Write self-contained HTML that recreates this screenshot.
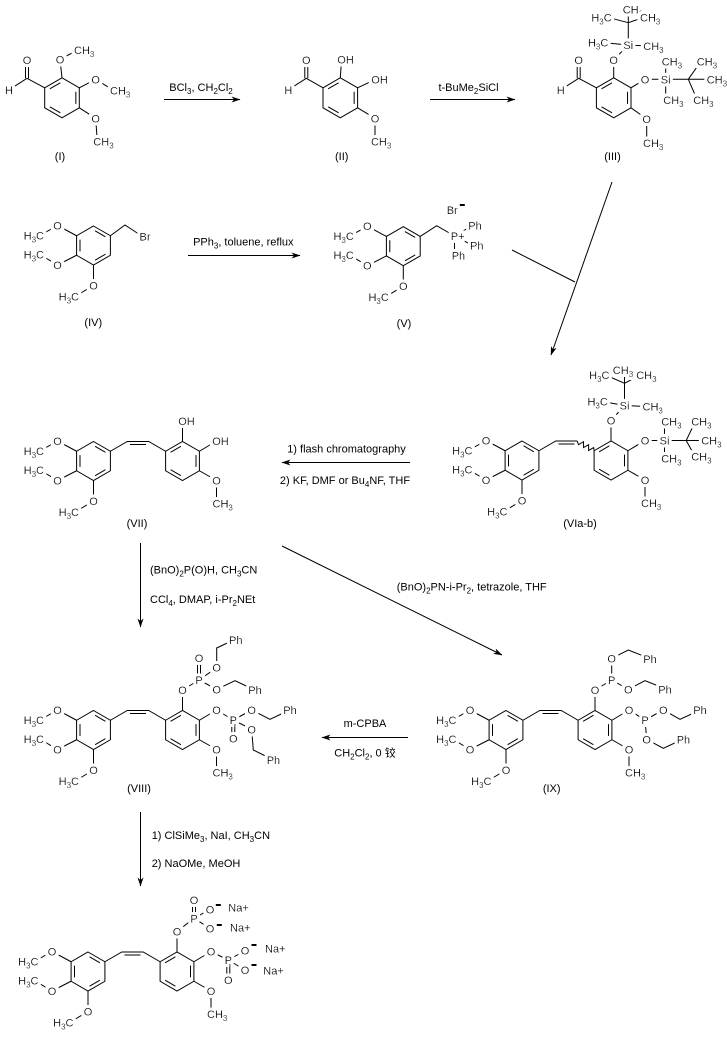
<!DOCTYPE html>
<html><head><meta charset="utf-8">
<style>
html,body{margin:0;padding:0;background:#fff;}
svg{display:block;}
text{font-family:"Liberation Sans",Arial,"Noto Sans CJK SC",sans-serif;font-size:11px;fill:#000;}
.a{filter:url(#h);}
.s{font-size:8px;}
.m{text-anchor:middle;}
.e{text-anchor:end;}
.l{fill:none;stroke:#000;stroke-width:1;}
</style></head>
<body>
<svg width="727" height="1038" viewBox="0 0 727 1038" xmlns="http://www.w3.org/2000/svg">
<defs>
<marker id="ah" viewBox="0 0 9 6" refX="8.5" refY="3" markerWidth="9" markerHeight="6" markerUnits="userSpaceOnUse" orient="auto"><path d="M0,0L9,3L0,6L2.5,3z" fill="#000"/></marker>
<filter id="h" x="-50%" y="-60%" width="200%" height="220%"><feMorphology in="SourceAlpha" operator="dilate" radius="3" result="d"/><feFlood flood-color="#fff"/><feComposite in2="d" operator="in"/><feMerge><feMergeNode/><feMergeNode in="SourceGraphic"/></feMerge></filter>
</defs>
<rect width="727" height="1038" fill="#fff"/>

<!-- Compound I -->
<g transform="translate(62,97.8)">
<polygon class="l" points="-17.3,-10 0,-20 17.3,-10 17.3,10 0,20 -17.3,10"/>
<path class="l" d="M-12.18,-8.96L-1.66,-15.04M13.84,-6.08L13.84,6.08M-1.66,15.04L-12.18,8.96M-17.3,-10L-35,-19.5L-53,-8M-36.5,-19.5L-36.5,-38M-33.5,-19.5L-33.5,-38M0,-20L-2,-38.5L16,-47.8M17.3,-10L33.7,-18.5L52,-7.1M17.3,10L33.7,20.5L35.3,43.9"/>
<text class="a m" x="-35" y="-34">O</text>
<text class="a m" x="-53" y="-4">H</text>
<text class="a m" x="-2" y="-34.5">O</text>
<text class="a" x="12" y="-43.8">CH<tspan class="s" dy="3">3</tspan></text>
<text class="a m" x="33.7" y="-14.5">O</text>
<text class="a" x="48" y="-3.1">CH<tspan class="s" dy="3">3</tspan></text>
<text class="a m" x="33.7" y="24.5">O</text>
<text class="a" x="31.3" y="47.9">CH<tspan class="s" dy="3">3</tspan></text>
</g>
<text class="m" x="60" y="160">(I)</text>

<!-- Arrow 1 -->
<line class="l" x1="164" y1="99.5" x2="240" y2="99.5" marker-end="url(#ah)"/>
<text class="m" x="201" y="91">BCl<tspan class="s" dy="3">3</tspan><tspan dy="-3">, CH</tspan><tspan class="s" dy="3">2</tspan><tspan dy="-3">Cl</tspan><tspan class="s" dy="3">2</tspan></text>

<!-- Compound II -->
<g transform="translate(340.3,97.8)">
<polygon class="l" points="-17.3,-10 0,-20 17.3,-10 17.3,10 0,20 -17.3,10"/>
<path class="l" d="M-12.18,-8.96L-1.66,-15.04M13.84,-6.08L13.84,6.08M-1.66,15.04L-12.18,8.96M-17.3,-10L-34,-19.5L-52,-8M-35.5,-19.5L-35.5,-38M-32.5,-19.5L-32.5,-38M0,-20L1.3,-38.5M17.3,-10L35.3,-18.5M17.3,10L34.7,20.5L34.7,43.9"/>
<text class="a m" x="-34" y="-34">O</text>
<text class="a m" x="-52" y="-4">H</text>
<text class="a" x="-3" y="-34.5">OH</text>
<text class="a" x="31" y="-14.5">OH</text>
<text class="a m" x="34.7" y="24.5">O</text>
<text class="a" x="30.7" y="47.9">CH<tspan class="s" dy="3">3</tspan></text>
</g>
<text class="m" x="341.7" y="160">(II)</text>

<!-- Arrow 2 -->
<line class="l" x1="430" y1="99.5" x2="515" y2="99.5" marker-end="url(#ah)"/>
<text class="m" x="468.5" y="91">t-BuMe<tspan class="s" dy="3">2</tspan><tspan dy="-3">SiCl</tspan></text>

<!-- Compound III -->
<g transform="translate(613.7,97.8)">
<polygon class="l" points="-17.3,-10 0,-20 17.3,-10 17.3,10 0,20 -17.3,10"/>
<path class="l" d="M-12.18,-8.96L-1.66,-15.04M13.84,-6.08L13.84,6.08M-1.66,15.04L-12.18,8.96M-17.3,-10L-35,-19.5L-53,-8M-36.5,-19.5L-36.5,-38M-33.5,-19.5L-33.5,-38"/>
<path class="l" d="M0,-20L0,-38L14.6,-52.8M14.6,-52.8L33.6,-51.8M14.6,-52.8L-9.4,-55.1M14.6,-52.8L14.6,-75.1M14.6,-75.1L-6,-80.5M14.6,-75.1L14.6,-86M14.6,-75.1L30.3,-80.5M17.3,-10L31.3,-18.5L74.6,-18.5M52,-18.5L52,-36M52,-18.5L52,2M74.6,-18.5L87,-36.1M74.6,-18.5L97,-18.5M74.6,-18.5L83.6,2.2M17.3,10L33,21.2L33,45.2"/>
<text class="a m" x="-35" y="-34">O</text>
<text class="a m" x="-53" y="-4">H</text>
<text class="a m" x="0" y="-34">O</text>
<text class="a m" x="14.6" y="-48.8">Si</text>
<text class="a" x="29.6" y="-47.8">CH<tspan class="s" dy="3">3</tspan></text>
<text class="a e" x="-5.4" y="-51.1">H<tspan class="s" dy="3">3</tspan><tspan dy="-3">C</tspan></text>
<text class="a e" x="-2" y="-76.5">H<tspan class="s" dy="3">3</tspan><tspan dy="-3">C</tspan></text>
<text class="a" x="9" y="-84.5">CH<tspan class="s" dy="3">3</tspan></text>
<text class="a" x="26.3" y="-76.5">CH<tspan class="s" dy="3">3</tspan></text>
<text class="a m" x="31.3" y="-14.5">O</text>
<text class="a m" x="52" y="-14.5">Si</text>
<text class="a" x="48" y="-32.1">CH<tspan class="s" dy="3">3</tspan></text>
<text class="a" x="49.6" y="6.2">CH<tspan class="s" dy="3">3</tspan></text>
<text class="a" x="83" y="-32.1">CH<tspan class="s" dy="3">3</tspan></text>
<text class="a" x="93" y="-14.5">CH<tspan class="s" dy="3">3</tspan></text>
<text class="a" x="79.6" y="6.2">CH<tspan class="s" dy="3">3</tspan></text>
<text class="a m" x="33" y="25.2">O</text>
<text class="a" x="29.3" y="49.2">CH<tspan class="s" dy="3">3</tspan></text>
</g>
<text class="m" x="612.5" y="160">(III)</text>

<!-- Compound IV -->
<g transform="translate(93.5,245.5)">
<polygon class="l" points="0,-19.5 16.9,-9.75 16.9,9.75 0,19.5 -16.9,9.75 -16.9,-9.75"/>
<path class="l" d="M1.6,-14.66L11.9,-8.74M11.9,8.74L1.6,14.66M-13.5,5.9L-13.5,-5.9M-16.9,-9.75L-36,-20L-53.5,-10M-16.9,9.75L-36,19.5L-53.5,9M0,19.5L0,40L-18.5,51"/>
<path class="l" d="M16.9,-9.75L31.5,-20.5L49,-9"/>
<text class="a m" x="-36" y="-16">O</text>
<text class="a e" x="-49.5" y="-6">H<tspan class="s" dy="3">3</tspan><tspan dy="-3">C</tspan></text>
<text class="a m" x="-36" y="23.5">O</text>
<text class="a e" x="-49.5" y="13">H<tspan class="s" dy="3">3</tspan><tspan dy="-3">C</tspan></text>
<text class="a m" x="0" y="44">O</text>
<text class="a e" x="-14.5" y="55">H<tspan class="s" dy="3">3</tspan><tspan dy="-3">C</tspan></text>
<text class="a" x="46" y="-4.8">Br</text>
</g>
<text class="m" x="93.3" y="326">(IV)</text>

<!-- Arrow 3 -->
<line class="l" x1="188" y1="255.5" x2="300" y2="255.5" marker-end="url(#ah)"/>
<text class="m" x="243.3" y="245.7">PPh<tspan class="s" dy="3">3</tspan><tspan dy="-3">, toluene, reflux</tspan></text>

<!-- Compound V -->
<g transform="translate(403.3,246.2)">
<polygon class="l" points="0,-19.5 16.9,-9.75 16.9,9.75 0,19.5 -16.9,9.75 -16.9,-9.75"/>
<path class="l" d="M1.6,-14.66L11.9,-8.74M11.9,8.74L1.6,14.66M-13.5,5.9L-13.5,-5.9M-16.9,-9.75L-36,-20L-53.5,-10M-16.9,9.75L-36,19.5L-53.5,9M0,19.5L0,40L-18.5,51"/>
<path class="l" d="M16.9,-9.75L33.4,-20.5L51.2,-10.2M51.2,-10.2L68,-20M51.2,-10.2L70,-0.5M51.2,-10.2L51.2,9.5"/>
<text class="a m" x="-36" y="-16">O</text>
<text class="a e" x="-49.5" y="-6">H<tspan class="s" dy="3">3</tspan><tspan dy="-3">C</tspan></text>
<text class="a m" x="-36" y="23.5">O</text>
<text class="a e" x="-49.5" y="13">H<tspan class="s" dy="3">3</tspan><tspan dy="-3">C</tspan></text>
<text class="a m" x="0" y="44">O</text>
<text class="a e" x="-14.5" y="55">H<tspan class="s" dy="3">3</tspan><tspan dy="-3">C</tspan></text>
<text class="a" x="47.5" y="-6.2">P+</text>
<text class="a" x="65" y="-16.5">Ph</text>
<text class="a" x="66.7" y="3.5">Ph</text>
<text class="a" x="48.4" y="13.5">Ph</text>
<text class="a" x="43.4" y="-32.2">Br</text>
<rect x="56.5" y="-42.2" width="5" height="2" fill="#000"/>
</g>
<text class="m" x="404" y="327">(V)</text>

<!-- Merge arrow -->
<line class="l" x1="512" y1="250" x2="575" y2="282"/>
<line class="l" x1="612" y1="182" x2="551" y2="355" marker-end="url(#ah)"/>

<!-- Compound VII -->
<g transform="translate(93.5,461)">
<polygon class="l" points="0,-19.5 16.9,-9.75 16.9,9.75 0,19.5 -16.9,9.75 -16.9,-9.75"/>
<path class="l" d="M1.6,-14.66L11.9,-8.74M11.9,8.74L1.6,14.66M-13.5,5.9L-13.5,-5.9M-16.9,-9.75L-36,-20L-53.5,-10M-16.9,9.75L-36,19.5L-53.5,9M0,19.5L0,40L-18.5,51"/>
<path class="l" d="M16.9,-9.75L33.8,-19.5L55.2,-19.5L72.1,-9.75M36.5,-16.5L52.5,-16.5"/>
<polygon class="l" points="72.1,-9.75 89,-19.5 105.9,-9.75 105.9,9.75 89,19.5 72.1,9.75"/>
<path class="l" d="M77.1,-8.74L87.4,-14.66M102.5,-5.9L102.5,5.9M87.4,14.66L77.1,8.74M105.9,9.75L123,19.5L123,42M89,-19.5L89,-40M105.9,-9.75L123,-20"/>
<text class="a m" x="-36" y="-16">O</text>
<text class="a e" x="-49.5" y="-6">H<tspan class="s" dy="3">3</tspan><tspan dy="-3">C</tspan></text>
<text class="a m" x="-36" y="23.5">O</text>
<text class="a e" x="-49.5" y="13">H<tspan class="s" dy="3">3</tspan><tspan dy="-3">C</tspan></text>
<text class="a m" x="0" y="44">O</text>
<text class="a e" x="-14.5" y="55">H<tspan class="s" dy="3">3</tspan><tspan dy="-3">C</tspan></text>
<text class="a m" x="123" y="23.5">O</text>
<text class="a" x="119" y="46.5">CH<tspan class="s" dy="3">3</tspan></text>
<text class="a" x="84.7" y="-36">OH</text>
<text class="a" x="118.7" y="-16">OH</text>
</g>
<text class="m" x="137" y="527">(VII)</text>

<!-- Arrow 4 -->
<line class="l" x1="410" y1="462.5" x2="282" y2="462.5" marker-end="url(#ah)"/>
<text class="m" x="346.5" y="452.3">1) flash chromatography</text>
<text class="m" x="345" y="484">2) KF, DMF or Bu<tspan class="s" dy="3">4</tspan><tspan dy="-3">NF, THF</tspan></text>

<!-- Compound VIa-b -->
<g transform="translate(522,460.5)">
<polygon class="l" points="0,-19.5 16.9,-9.75 16.9,9.75 0,19.5 -16.9,9.75 -16.9,-9.75"/>
<path class="l" d="M1.6,-14.66L11.9,-8.74M11.9,8.74L1.6,14.66M-13.5,5.9L-13.5,-5.9M-16.9,-9.75L-36,-20L-53.5,-10M-16.9,9.75L-36,19.5L-53.5,9M0,19.5L0,40L-18.5,51"/>
<path class="l" d="M16.9,-9.75L33.8,-19.5L55.2,-19.5M36.5,-16.5L52.5,-16.5M55.2,-19.5L56.49,-15.87L61.52,-18.75L61.56,-12.94L66.59,-15.82L66.63,-10.02L71.66,-12.9L72.1,-9.75"/>
<polygon class="l" points="72.1,-9.75 89,-19.5 105.9,-9.75 105.9,9.75 89,19.5 72.1,9.75"/>
<path class="l" d="M77.1,-8.74L87.4,-14.66M102.5,-5.9L102.5,5.9M87.4,14.66L77.1,8.74M105.9,9.75L123,19.5L123,42M89,-19.5L89,-40M105.9,-9.75L123,-20"/>
<path class="l" d="M89,-40L102.5,-55M102.5,-55L124.5,-54M102.5,-55L81.8,-58.8M102.5,-55L102.5,-77.2M102.5,-77.2L83.5,-85.5M102.5,-77.2L102.5,-90M102.5,-77.2L118.2,-85.5M123,-20L164.2,-20M142.5,-20L142.5,-38M142.5,-20L142.5,-3M164.2,-20L173.2,-38.8M164.2,-20L183.2,-20M164.2,-20L173.2,-3.8"/>
<text class="a m" x="-36" y="-16">O</text>
<text class="a e" x="-49.5" y="-6">H<tspan class="s" dy="3">3</tspan><tspan dy="-3">C</tspan></text>
<text class="a m" x="-36" y="23.5">O</text>
<text class="a e" x="-49.5" y="13">H<tspan class="s" dy="3">3</tspan><tspan dy="-3">C</tspan></text>
<text class="a m" x="0" y="44">O</text>
<text class="a e" x="-14.5" y="55">H<tspan class="s" dy="3">3</tspan><tspan dy="-3">C</tspan></text>
<text class="a m" x="123" y="23.5">O</text>
<text class="a" x="119" y="46.5">CH<tspan class="s" dy="3">3</tspan></text>
<text class="a m" x="89" y="-36">O</text>
<text class="a m" x="102.5" y="-51">Si</text>
<text class="a" x="120.5" y="-50">CH<tspan class="s" dy="3">3</tspan></text>
<text class="a e" x="85.8" y="-54.8">H<tspan class="s" dy="3">3</tspan><tspan dy="-3">C</tspan></text>
<text class="a e" x="87.5" y="-81.5">H<tspan class="s" dy="3">3</tspan><tspan dy="-3">C</tspan></text>
<text class="a" x="90.8" y="-86.5">CH<tspan class="s" dy="3">3</tspan></text>
<text class="a" x="114.2" y="-81.5">CH<tspan class="s" dy="3">3</tspan></text>
<text class="a m" x="123" y="-16">O</text>
<text class="a m" x="142.5" y="-16">Si</text>
<text class="a" x="139.2" y="-34.8">CH<tspan class="s" dy="3">3</tspan></text>
<text class="a" x="139.2" y="1.8">CH<tspan class="s" dy="3">3</tspan></text>
<text class="a" x="169.2" y="-34.8">CH<tspan class="s" dy="3">3</tspan></text>
<text class="a" x="179.2" y="-16">CH<tspan class="s" dy="3">3</tspan></text>
<text class="a" x="169.2" y="0.2">CH<tspan class="s" dy="3">3</tspan></text>
</g>
<text class="m" x="580" y="527">(VIa-b)</text>

<!-- Diagonal arrow VII -> IX -->
<line class="l" x1="282" y1="546" x2="502" y2="655" marker-end="url(#ah)"/>
<text class="m" x="471.7" y="590.7">(BnO)<tspan class="s" dy="3">2</tspan><tspan dy="-3">PN-i-Pr</tspan><tspan class="s" dy="3">2</tspan><tspan dy="-3">, tetrazole, THF</tspan></text>

<!-- Down arrow VII -> VIII -->
<line class="l" x1="140.5" y1="543" x2="140.5" y2="627" marker-end="url(#ah)"/>
<text x="150" y="573.3">(BnO)<tspan class="s" dy="3">2</tspan><tspan dy="-3">P(O)H, CH</tspan><tspan class="s" dy="3">3</tspan><tspan dy="-3">CN</tspan></text>
<text x="150" y="603">CCl<tspan class="s" dy="3">4</tspan><tspan dy="-3">, DMAP, i-Pr</tspan><tspan class="s" dy="3">2</tspan><tspan dy="-3">NEt</tspan></text>

<!-- Compound VIII -->
<g transform="translate(93.5,730)">
<polygon class="l" points="0,-19.5 16.9,-9.75 16.9,9.75 0,19.5 -16.9,9.75 -16.9,-9.75"/>
<path class="l" d="M1.6,-14.66L11.9,-8.74M11.9,8.74L1.6,14.66M-13.5,5.9L-13.5,-5.9M-16.9,-9.75L-36,-20L-53.5,-10M-16.9,9.75L-36,19.5L-53.5,9M0,19.5L0,40L-18.5,51"/>
<path class="l" d="M16.9,-9.75L33.8,-19.5L55.2,-19.5L72.1,-9.75M36.5,-16.5L52.5,-16.5"/>
<polygon class="l" points="72.1,-9.75 89,-19.5 105.9,-9.75 105.9,9.75 89,19.5 72.1,9.75"/>
<path class="l" d="M77.1,-8.74L87.4,-14.66M102.5,-5.9L102.5,5.9M87.4,14.66L77.1,8.74M105.9,9.75L123,19.5L123,42M89,-19.5L89,-40M105.9,-9.75L123,-20"/>
<path class="l" d="M89,-40L105.5,-50M104,-50L104,-72M107,-50L107,-72M105.5,-50L123.2,-62.3L123.2,-82L138,-89M105.5,-50L123.2,-40.7L141.5,-49.3L157,-42M123,-20L139.8,-10M138.3,-10L138.3,8.3M141.3,-10L141.3,8.3M139.8,-10L158.2,-20L176.5,-10.7L192,-18M139.8,-10L158.2,-0.7L159.8,20L176,28"/>
<text class="a m" x="-36" y="-16">O</text>
<text class="a e" x="-49.5" y="-6">H<tspan class="s" dy="3">3</tspan><tspan dy="-3">C</tspan></text>
<text class="a m" x="-36" y="23.5">O</text>
<text class="a e" x="-49.5" y="13">H<tspan class="s" dy="3">3</tspan><tspan dy="-3">C</tspan></text>
<text class="a m" x="0" y="44">O</text>
<text class="a e" x="-14.5" y="55">H<tspan class="s" dy="3">3</tspan><tspan dy="-3">C</tspan></text>
<text class="a m" x="123" y="23.5">O</text>
<text class="a" x="119" y="46.5">CH<tspan class="s" dy="3">3</tspan></text>
<text class="a m" x="89" y="-36">O</text>
<text class="a m" x="105.5" y="-46">P</text>
<text class="a m" x="105.5" y="-68">O</text>
<text class="a m" x="123.2" y="-58.3">O</text>
<text class="a" x="135.5" y="-86">Ph</text>
<text class="a m" x="123.2" y="-36.7">O</text>
<text class="a" x="154.8" y="-36">Ph</text>
<text class="a m" x="123" y="-16">O</text>
<text class="a m" x="139.8" y="-6">P</text>
<text class="a m" x="139.8" y="12.3">O</text>
<text class="a m" x="158.2" y="-16">O</text>
<text class="a" x="189.8" y="-16">Ph</text>
<text class="a m" x="158.2" y="3.3">O</text>
<text class="a" x="173.2" y="34">Ph</text>
</g>
<text class="m" x="139" y="792">(VIII)</text>

<!-- Arrow IX -> VIII -->
<line class="l" x1="408" y1="737.5" x2="322" y2="737.5" marker-end="url(#ah)"/>
<text class="m" x="365" y="727">m-CPBA</text>
<text class="m" x="365" y="756.7">CH<tspan class="s" dy="3">2</tspan><tspan dy="-3">Cl</tspan><tspan class="s" dy="3">2</tspan><tspan dy="-3">, 0 铰</tspan></text>

<!-- Compound IX -->
<g transform="translate(506,730)">
<polygon class="l" points="0,-19.5 16.9,-9.75 16.9,9.75 0,19.5 -16.9,9.75 -16.9,-9.75"/>
<path class="l" d="M1.6,-14.66L11.9,-8.74M11.9,8.74L1.6,14.66M-13.5,5.9L-13.5,-5.9M-16.9,-9.75L-36,-20L-53.5,-10M-16.9,9.75L-36,19.5L-53.5,9M0,19.5L0,40L-18.5,51"/>
<path class="l" d="M16.9,-9.75L33.8,-19.5L55.2,-19.5L72.1,-9.75M36.5,-16.5L52.5,-16.5"/>
<polygon class="l" points="72.1,-9.75 89,-19.5 105.9,-9.75 105.9,9.75 89,19.5 72.1,9.75"/>
<path class="l" d="M77.1,-8.74L87.4,-14.66M102.5,-5.9L102.5,5.9M87.4,14.66L77.1,8.74M105.9,9.75L123,19.5L123,42M89,-19.5L89,-40M105.9,-9.75L123,-20"/>
<path class="l" d="M89,-40L105.7,-50L105.7,-71.7L122.3,-80L140,-73M105.7,-50L122.3,-40.7L139,-49.3L155,-43M123,-20L139,-10L157.3,-20L174,-10.7L190,-18M139,-10L140.7,9.3L157.3,18.3L173,11"/>
<text class="a m" x="-36" y="-16">O</text>
<text class="a e" x="-49.5" y="-6">H<tspan class="s" dy="3">3</tspan><tspan dy="-3">C</tspan></text>
<text class="a m" x="-36" y="23.5">O</text>
<text class="a e" x="-49.5" y="13">H<tspan class="s" dy="3">3</tspan><tspan dy="-3">C</tspan></text>
<text class="a m" x="0" y="44">O</text>
<text class="a e" x="-14.5" y="55">H<tspan class="s" dy="3">3</tspan><tspan dy="-3">C</tspan></text>
<text class="a m" x="123" y="23.5">O</text>
<text class="a" x="119" y="46.5">CH<tspan class="s" dy="3">3</tspan></text>
<text class="a m" x="89" y="-36">O</text>
<text class="a m" x="105.7" y="-46">P</text>
<text class="a m" x="105.7" y="-67.7">O</text>
<text class="a" x="137.3" y="-67">Ph</text>
<text class="a m" x="122.3" y="-36.7">O</text>
<text class="a" x="152.3" y="-36.7">Ph</text>
<text class="a m" x="123" y="-16">O</text>
<text class="a m" x="139" y="-6">P</text>
<text class="a m" x="157.3" y="-16">O</text>
<text class="a" x="187.3" y="-16">Ph</text>
<text class="a m" x="140.7" y="13.3">O</text>
<text class="a" x="170.7" y="13.3">Ph</text>
</g>
<text class="m" x="551.7" y="792">(IX)</text>

<!-- Down arrow VIII -> final -->
<line class="l" x1="140.5" y1="812" x2="140.5" y2="886" marker-end="url(#ah)"/>
<text x="151.7" y="839">1) ClSiMe<tspan class="s" dy="3">3</tspan><tspan dy="-3">, NaI, CH</tspan><tspan class="s" dy="3">3</tspan><tspan dy="-3">CN</tspan></text>
<text x="151.7" y="867">2) NaOMe, MeOH</text>

<!-- Final compound -->
<g transform="translate(88,971.5)">
<polygon class="l" points="0,-19.5 16.9,-9.75 16.9,9.75 0,19.5 -16.9,9.75 -16.9,-9.75"/>
<path class="l" d="M1.6,-14.66L11.9,-8.74M11.9,8.74L1.6,14.66M-13.5,5.9L-13.5,-5.9M-16.9,-9.75L-36,-20L-53.5,-10M-16.9,9.75L-36,19.5L-53.5,9M0,19.5L0,40L-18.5,51"/>
<path class="l" d="M16.9,-9.75L33.8,-19.5L55.2,-19.5L72.1,-9.75M36.5,-16.5L52.5,-16.5"/>
<polygon class="l" points="72.1,-9.75 89,-19.5 105.9,-9.75 105.9,9.75 89,19.5 72.1,9.75"/>
<path class="l" d="M77.1,-8.74L87.4,-14.66M102.5,-5.9L102.5,5.9M87.4,14.66L77.1,8.74M105.9,9.75L123,19.5L123,42M89,-19.5L89,-40M105.9,-9.75L123,-20"/>
<path class="l" d="M89,-40L106,-53.2M104.5,-53.2L104.5,-71.5M107.5,-53.2L107.5,-71.5M106,-53.2L122,-62.2M106,-53.2L122,-43.2M123,-20L140.3,-11.5M138.8,-11.5L138.8,8.5M141.8,-11.5L141.8,8.5M140.3,-11.5L157,-20.8M140.3,-11.5L157,-1.5"/>
<text class="a m" x="-36" y="-16">O</text>
<text class="a e" x="-49.5" y="-6">H<tspan class="s" dy="3">3</tspan><tspan dy="-3">C</tspan></text>
<text class="a m" x="-36" y="23.5">O</text>
<text class="a e" x="-49.5" y="13">H<tspan class="s" dy="3">3</tspan><tspan dy="-3">C</tspan></text>
<text class="a m" x="0" y="44">O</text>
<text class="a e" x="-14.5" y="55">H<tspan class="s" dy="3">3</tspan><tspan dy="-3">C</tspan></text>
<text class="a m" x="123" y="23.5">O</text>
<text class="a" x="119" y="46.5">CH<tspan class="s" dy="3">3</tspan></text>
<text class="a m" x="89" y="-36">O</text>
<text class="a m" x="106" y="-49.2">P</text>
<text class="a m" x="106" y="-67.5">O</text>
<text class="a m" x="122" y="-58.2">O</text>
<text class="a m" x="122" y="-39.2">O</text>
<text class="a" x="140.3" y="-60.2">Na+</text>
<text class="a" x="142" y="-39.8">Na+</text>
<text class="a m" x="123" y="-16">O</text>
<text class="a m" x="140.3" y="-7.5">P</text>
<text class="a m" x="140.3" y="12.5">O</text>
<text class="a m" x="157" y="-16.8">O</text>
<text class="a m" x="157" y="2.5">O</text>
<text class="a" x="177" y="-19.2">Na+</text>
<text class="a" x="175.3" y="3.2">Na+</text>
<rect x="127.8" y="-67.5" width="5" height="2" fill="#000"/>
<rect x="128.8" y="-47.5" width="5" height="2" fill="#000"/>
<rect x="163.5" y="-27.5" width="5" height="2" fill="#000"/>
<rect x="163.5" y="-7.5" width="5" height="2" fill="#000"/>
</g>
</svg>
</body></html>
